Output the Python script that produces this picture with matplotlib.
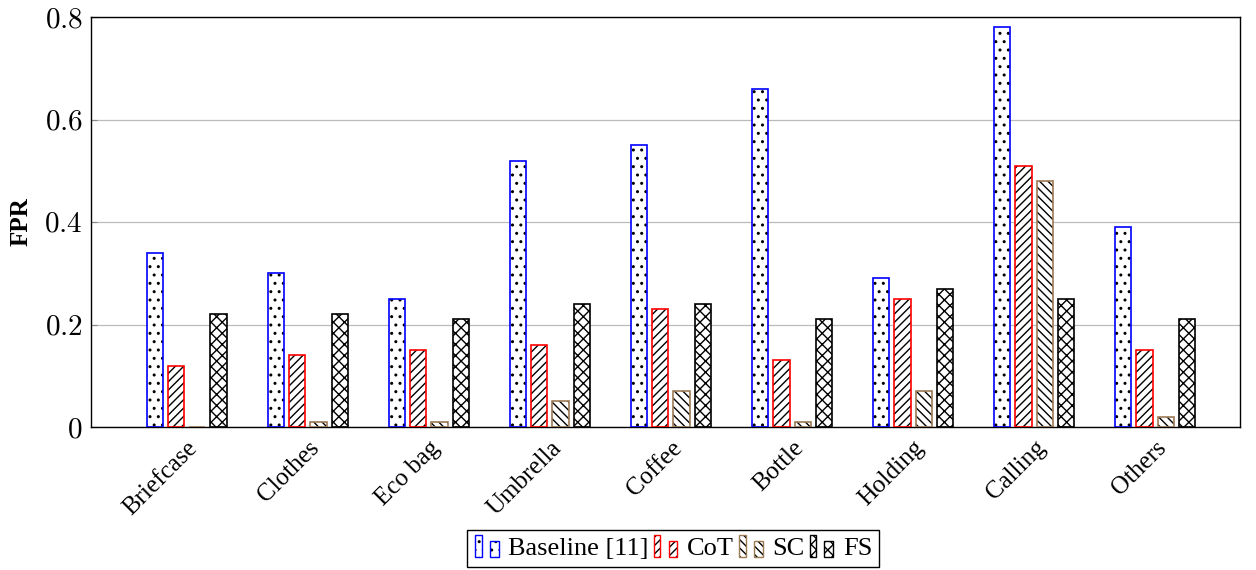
import numpy as np
import matplotlib
matplotlib.use("Agg")
import matplotlib.pyplot as plt
from matplotlib.patches import Rectangle
from matplotlib.legend_handler import HandlerBase

categories = ["Briefcase", "Clothes", "Eco bag", "Umbrella", "Coffee",
              "Bottle", "Holding", "Calling", "Others"]
baseline = [0.34, 0.30, 0.25, 0.52, 0.55, 0.66, 0.29, 0.78, 0.39]
cot      = [0.12, 0.14, 0.15, 0.16, 0.23, 0.13, 0.25, 0.51, 0.15]
sc       = [0.00, 0.01, 0.01, 0.05, 0.07, 0.01, 0.07, 0.48, 0.02]
fs       = [0.22, 0.22, 0.21, 0.24, 0.24, 0.21, 0.27, 0.25, 0.21]
series_names = ["Baseline [11]", "CoT", "SC", "FS"]
yticks = [0, 0.2, 0.4, 0.6, 0.8]

plt.rcParams["font.family"] = ["Liberation Serif", "DejaVu Serif"]
plt.rcParams["mathtext.fontset"] = "cm"
plt.rcParams["hatch.linewidth"] = 1.0

styles = [  # edge colour, hatch
    ("#0000ff", ".."),
    ("#ff0000", "////"),
    ("#9c7a55", "\\\\\\\\"),
    ("#000000", "xxx"),
]

fig = plt.figure(figsize=(12.56, 5.70), dpi=100)
ax = fig.add_axes([91 / 1256, 1 - 427 / 570, (1240 - 91) / 1256, (427 - 17) / 570])

x = np.arange(len(categories))
width = 0.135
step = 0.176
offsets = [-1.5 * step, -0.5 * step, 0.5 * step, 1.5 * step]
for vals, off, (ec, hatch) in zip([baseline, cot, sc, fs], offsets, styles):
    ax.bar(x + off, vals, width, color="white", edgecolor="black", hatch=hatch,
           linewidth=0, zorder=2)
    ax.bar(x + off, vals, width, color="none", edgecolor=ec, linewidth=1.2, zorder=3)

ax.set_xlim(-0.79, 8.70)
ax.set_ylim(0, 0.8)
ax.set_yticks(yticks)
ax.set_yticklabels(["$0$" if v == 0 else f"${v:.1f}$" for v in yticks], fontsize=21)
ax.set_xticks(x)
ax.set_xticklabels(categories, rotation=45, ha="right", rotation_mode="anchor",
                   fontsize=18)
ax.tick_params(axis="x", length=0, pad=7)
ax.tick_params(axis="y", direction="in", length=4, color="#888888", pad=6)
ax.yaxis.grid(True, color="#bbbbbb", linewidth=0.9, zorder=0)
ax.set_axisbelow(True)
for s in ax.spines.values():
    s.set_linewidth(1.0)
ax.set_ylabel("FPR", fontsize=18, fontweight="bold")
ax.yaxis.set_label_coords(-0.051, 0.5)


class TwoBars(HandlerBase):
    def create_artists(self, legend, orig, xd, yd, w, h, fontsize, trans):
        arts = []
        for x0, ww, hh in ((0.05 * w, 0.22 * w, h * 1.2), (0.55 * w, 0.3 * w, h * 0.85)):
            for hatch, ec, lw in ((orig.get_hatch(), "black", 0),
                                  (None, orig.get_edgecolor(), 1.0)):
                r = Rectangle((x0, -0.1 * h), ww, hh,
                              facecolor="white" if hatch else "none",
                              edgecolor=ec, hatch=hatch, linewidth=lw,
                              transform=trans)
                arts.append(r)
        return arts


handles = [Rectangle((0, 0), 1, 1, facecolor="white", edgecolor=ec, hatch=hatch)
           for ec, hatch in styles]
leg = fig.legend(handles, series_names, loc="upper center",
                 bbox_to_anchor=(673 / 1256, 1 - 530 / 570), ncol=4,
                 handler_map={Rectangle: TwoBars()}, fontsize=19,
                 handlelength=1.1, handletextpad=0.2, columnspacing=0.15,
                 fancybox=False, edgecolor="black", framealpha=1,
                 borderpad=0.25, borderaxespad=0)
leg.get_frame().set_linewidth(1.0)

fig.savefig("out.png", dpi=100, facecolor="white")
